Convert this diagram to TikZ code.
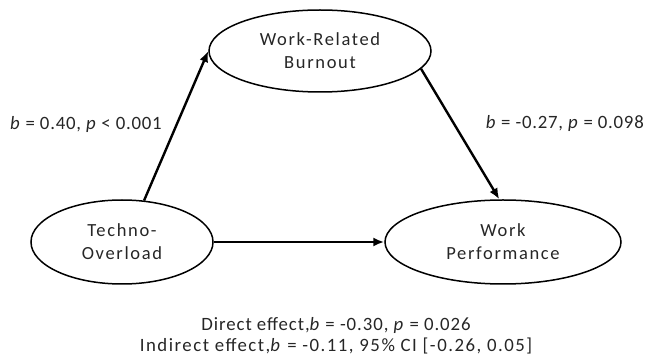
\documentclass[tikz,border=0pt]{standalone}
\usepackage{fontspec}
\setmainfont{Carlito}
\newfontfamily\varfont[LetterSpace=9]{Carlito}
\newfontfamily\lblfont[LetterSpace=4]{Carlito}
\newfontfamily\sumfont[LetterSpace=5]{Carlito}
\newfontfamily\sumwidefont[LetterSpace=8]{Carlito}
\usetikzlibrary{shapes.geometric,arrows.meta}
\begin{document}
\begin{tikzpicture}[x=1pt,y=-1pt,
  var/.style={ellipse,draw,line width=1.5pt,align=center,text=black!85,
    font=\varfont\fontsize{18.5}{23}\selectfont,inner sep=0pt},
  path/.style={line width=2.4pt,-{Latex[length=11pt,width=9pt]}},
  lbl/.style={font=\lblfont\fontsize{18.8}{21}\selectfont,text=black!85,inner sep=0pt}]
  \useasboundingbox (0,0) rectangle (646,363);
  % the three constructs
  \node[var,minimum width=222pt,minimum height=82pt] (B) at (320,51) {Work-Related\\Burnout};
  \node[var,minimum width=182pt,minimum height=84pt] (T) at (122,242) {Techno-\\Overload};
  \node[var,minimum width=236pt,minimum height=84pt] (P) at (503,242) {Work\\Performance};
  % paths
  \draw[path] (T.62) -- (B.west);
  \draw[path] (B.-10) -- (P.95);
  \draw[path] (T.east) -- (P.west);
  % path coefficients
  \node[lbl,anchor=west] (a) at (10,124) {\textit{b} = 0.40, \textit{p} {<} 0.001};
  \node[lbl,anchor=east] (c) at (644,123) {\textit{b} = -0.27, \textit{p} = 0.098};
  % effect summary
  \node[lbl,align=center] (s) at (336,336)
    {\sumfont Direct effect,\textit{b} = -0.30, \textit{p} = 0.026\\
     \sumwidefont Indirect effect,\textit{b} = -0.11, 95\% CI [-0.26, 0.05]};
\end{tikzpicture}
\end{document}
